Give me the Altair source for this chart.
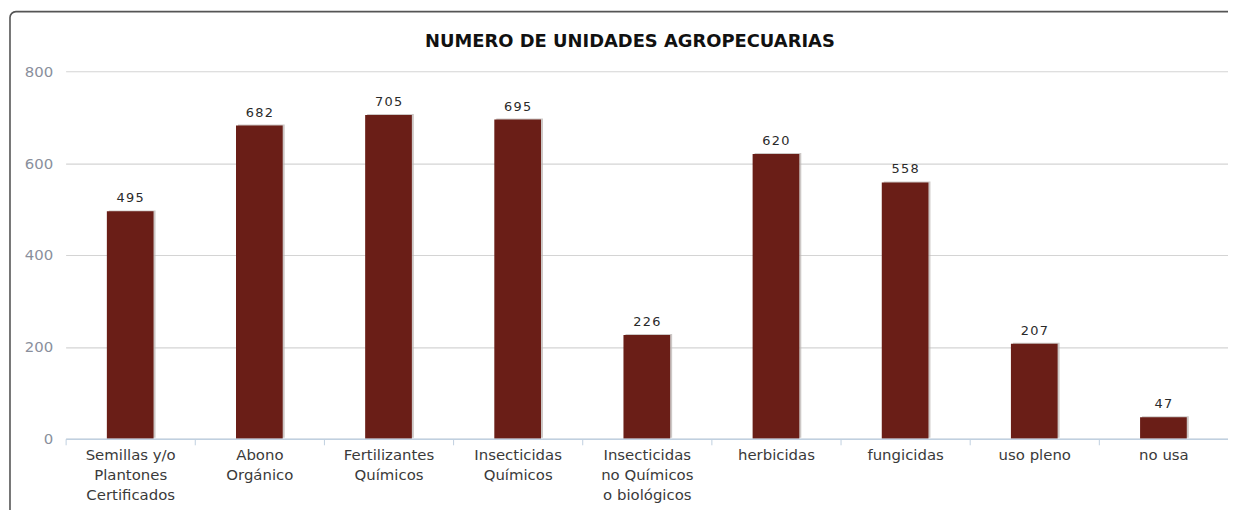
import altair as alt
import pandas as pd

categories = [
    "Semillas y/o|Plantones|Certificados",
    "Abono|Orgánico",
    "Fertilizantes|Químicos",
    "Insecticidas|Químicos",
    "Insecticidas|no Químicos|o biológicos",
    "herbicidas",
    "fungicidas",
    "uso pleno",
    "no usa",
]
values = [495, 682, 705, 695, 226, 620, 558, 207, 47]
y_ticks = [0, 200, 400, 600, 800]
title_text = "NUMERO DE UNIDADES AGROPECUARIAS"

df = pd.DataFrame({"cat": categories, "val": values})
df["lbl"] = ["\u200a".join(str(v)) for v in values]

FONT = "DejaVu Sans"
BAR = "#6a1e17"

x_enc = alt.X(
    "cat:N",
    sort=categories,
    title=None,
    scale=alt.Scale(paddingInner=0.0, paddingOuter=0.0),
    axis=alt.Axis(
        labelExpr="split(datum.label, '|')",
        labelAngle=0,
        labelFont=FONT,
        labelFontSize=15,
        labelColor="#3a3a3a",
        labelLineHeight=20,
        labelPadding=3,
        labelBaseline="top",
        tickBand="extent",
        tickColor="#c0d0e0",
        tickSize=6,
        domainColor="#c0d0e0",
        domainWidth=1.5,
        grid=False,
        zindex=1,
    ),
)
y_enc = alt.Y(
    "val:Q",
    title=None,
    scale=alt.Scale(domain=[0, 800], nice=False),
    axis=alt.Axis(
        values=y_ticks,
        labelFont=FONT,
        labelFontSize=15,
        labelColor="#8a8f9c",
        labelPadding=13,
        ticks=False,
        domain=False,
        gridColor="#d4d4d4",
        gridWidth=1.2,
    ),
)

frame = alt.Chart(pd.DataFrame({"a": [0]})).mark_rect(
    fill="transparent", stroke="#555555", strokeWidth=1.6, cornerRadius=6
).encode(
    x=alt.value(-56), x2=alt.value(1240), y=alt.value(-60), y2=alt.value(480)
)

title = alt.Chart(pd.DataFrame({"t": [title_text]})).mark_text(
    font=FONT, fontSize=18, fontWeight="bold", color="#111111", baseline="middle", align="center"
).encode(x=alt.value(568), y=alt.value(-29), text="t:N")

shadow = alt.Chart(df).mark_bar(size=47, color="#b8b0ae", opacity=0.7, xOffset=2, yOffset=-1).encode(
    x=x_enc, y=y_enc
)
bars = alt.Chart(df).mark_bar(size=47, color=BAR).encode(x=x_enc, y=y_enc)
labels = alt.Chart(df).mark_text(
    baseline="bottom", dy=-6, font=FONT, fontSize=13, color="#2a2a2a"
).encode(x=x_enc, y=y_enc, text="lbl:N")

chart = (
    alt.layer(frame, title, shadow, bars, labels)
    .properties(
        width=1170,
        height=370,
        autosize=alt.AutoSizeParams(type="none"),
        padding={"left": 58, "top": 62, "right": 0, "bottom": 70},
    )
    .configure_view(stroke=None)
)

chart.save("out.html", embed_options={"renderer": "svg", "actions": False})
